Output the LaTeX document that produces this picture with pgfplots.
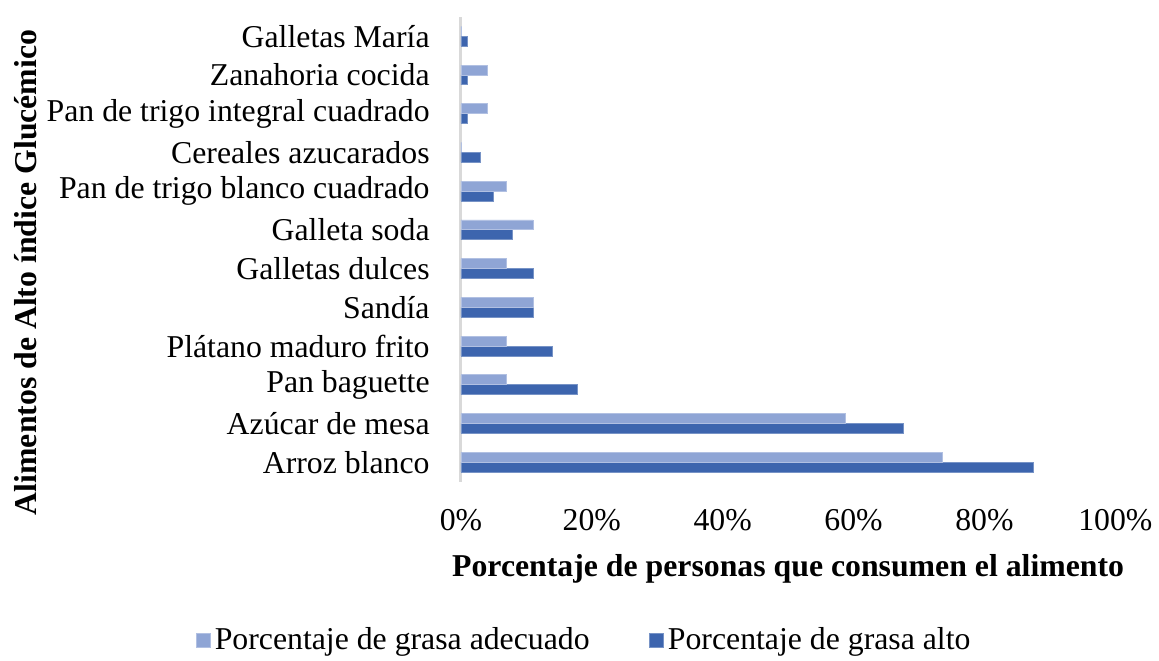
\documentclass[border=0pt]{standalone}
\usepackage{fontspec}
\setmainfont{Liberation Serif}
\usepackage{pgfplots}
\pgfplotsset{compat=1.18}
\definecolor{adec}{RGB}{143,165,213}
\definecolor{alto}{RGB}{61,101,174}
\begin{document}
\begin{tikzpicture}
\begin{axis}[
  xbar=0pt, bar width=5pt,
  scale only axis, width=329.5pt, height=234pt,
  xmin=0, xmax=100, ymin=-0.5, ymax=11.5,
  xtick={0,20,...,100},
  xticklabels={0\%,20\%,40\%,60\%,80\%,100\%},
  ytick={0,...,11},
  yticklabels={Arroz blanco~,Azúcar de mesa,Pan baguette,Plátano maduro frito~,Sandía,Galletas dulces,Galleta soda,Pan de trigo blanco cuadrado~,Cereales azucarados,Pan de trigo integral cuadrado,Zanahoria cocida~,Galletas María},
  tick style={draw=none},
  axis lines*=left,
  x axis line style={draw=none},
  y axis line style={black!15, line width=1.5pt},
  tick label style={font=\fontsize{16}{18}\selectfont},
  xticklabel style={yshift=-10.5pt},
  yticklabel style={xshift=-8pt},
  xlabel={\textbf{Porcentaje de personas que consumen el alimento}},
  ylabel={\textbf{Alimentos de Alto índice Glucémico}},
  label style={font=\fontsize{16}{18}\selectfont},
  xlabel style={yshift=-5pt},
  ylabel style={at={(ticklabel cs:0.45)}, yshift=-2pt},
  legend style={at={(rel axis cs:0.19,-0.34)}, anchor=center, draw=none,
    font=\fontsize{16}{18}\selectfont, legend columns=2,
    /tikz/every even column/.append style={column sep=28pt}},
  legend image code/.code={\fill[#1] (1pt,-4pt) rectangle (8pt,3pt);},
  reverse legend,
]
\addplot[fill=alto, draw=alto!70!white, line width=0.4pt] coordinates {
  (87.5,0) (67.6,1) (17.8,2) (13.9,3) (11,4) (11,5) (7.9,6) (4.9,7) (2.9,8) (1,9) (1,10) (1,11)
};
\addplot[fill=adec, draw=adec!70!white, line width=0.4pt] coordinates {
  (73.5,0) (58.7,1) (7,2) (7,3) (11,4) (7,5) (11,6) (7,7) (0,8) (4,9) (4,10) (0,11)
};
\legend{Porcentaje de grasa alto, Porcentaje de grasa adecuado}
\end{axis}
\path ([yshift=8.5pt]current axis.north west) -- (current axis.north west);
\path ([xshift=-4pt]current axis.outer west) -- (current axis.outer west);
\end{tikzpicture}
\end{document}
